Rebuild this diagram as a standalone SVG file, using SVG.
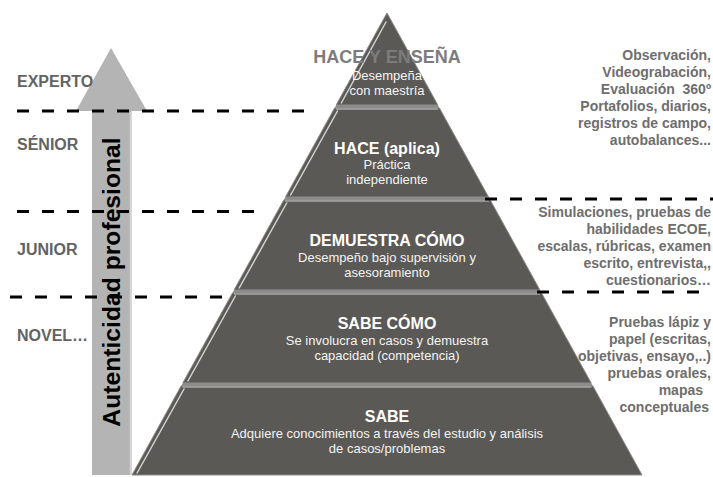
<svg xmlns="http://www.w3.org/2000/svg" width="713" height="477" viewBox="0 0 713 477">
  <style>
    .layer { fill: #5b5955; stroke: #8f8e8c; stroke-width: 1; }
    .hl { fill: none; stroke: #d2d2d0; stroke-width: 1.5; stroke-linecap: round; }
    .tophl { fill: none; stroke: #a9a9a7; stroke-width: 1.5; }
    .title { font-family: "Liberation Sans", Arial, sans-serif; font-weight: bold; font-size: 16px; fill: #ffffff; text-anchor: middle; }
    .sub { font-family: "Liberation Sans", Arial, sans-serif; font-size: 13px; fill: #f4f4f4; text-anchor: middle; }
    .level { font-family: "Liberation Sans", Arial, sans-serif; font-weight: bold; font-size: 16px; fill: #636363; }
    .method { font-family: "Liberation Sans", Arial, sans-serif; font-weight: bold; font-size: 14px; fill: #6e6e6e; text-anchor: end; }
    .dash { stroke: #000000; stroke-width: 3; stroke-dasharray: 12 13; fill: none; }
  </style>

  <rect width="713" height="477" fill="#ffffff"/>

  <!-- Arrow -->
  <g id="arrow-autenticidad">
    <polygon points="111,48 147,111 131.5,111 131.5,475 92,475 92,111 76,111" fill="#b4b4b4"/>
    <line x1="130.5" y1="112" x2="130.5" y2="475" stroke="#d4d4d4" stroke-width="1.5"/>
  </g>

  <!-- Pyramid background (gaps) -->
  <polygon points="387,13 642,475 132,475" fill="#8c8b89"/>

  <g id="layer-hace-ensena">
    <polygon class="layer" points="387,13 437.8,105 336.2,105"/>
    <line class="hl" x1="386" y1="22" x2="341.3" y2="103"/>
  </g>
  <g id="layer-hace">
    <polygon class="layer" points="334.6,108 439.4,108 488.5,197 285.5,197"/>
    <line class="tophl" x1="336" y1="109" x2="438" y2="109"/>
    <line class="hl" x1="337.5" y1="111" x2="290.6" y2="195"/>
    <text class="title" x="387" y="154">HACE (aplica)</text>
    <text class="sub" x="387" y="169">Práctica</text>
    <text class="sub" x="387" y="184">independiente</text>
  </g>
  <g id="layer-demuestra">
    <polygon class="layer" points="283.8,200 490.2,200 539.9,290 234.1,290"/>
    <line class="tophl" x1="285" y1="201" x2="489" y2="201"/>
    <line class="hl" x1="286.7" y1="203" x2="239.2" y2="288"/>
    <text class="title" x="387" y="246">DEMUESTRA CÓMO</text>
    <text class="sub" x="387" y="262">Desempeño bajo supervisión y</text>
    <text class="sub" x="387" y="277">asesoramiento</text>
  </g>
  <g id="layer-sabe-como">
    <polygon class="layer" points="232.5,293 541.5,293 591.2,383 182.8,383"/>
    <line class="tophl" x1="234" y1="294" x2="540" y2="294"/>
    <line class="hl" x1="235.4" y1="296" x2="187.9" y2="381"/>
    <text class="title" x="387" y="329">SABE CÓMO</text>
    <text class="sub" x="387" y="345">Se involucra en casos y demuestra</text>
    <text class="sub" x="387" y="360">capacidad (competencia)</text>
  </g>
  <g id="layer-sabe">
    <polygon class="layer" points="181.1,386 592.9,386 642,475 132,475"/>
    <line class="tophl" x1="182.5" y1="387" x2="591.5" y2="387"/>
    <line class="hl" x1="184" y1="389" x2="137.1" y2="473"/>
    <text class="title" x="387" y="422">SABE</text>
    <text class="sub" x="387" y="438">Adquiere conocimientos a través del estudio y análisis</text>
    <text class="sub" x="387" y="453">de casos/problemas</text>
  </g>

  <!-- Top layer texts (overflowing title) -->
  <g id="layer-hace-ensena-text">
    <text x="387" y="63" font-family="Liberation Sans, Arial, sans-serif" font-weight="bold" font-size="18" fill="#7c7c7c" text-anchor="middle">HACE Y ENSEÑA</text>
    <text class="sub" x="387" y="80">Desempeña</text>
    <text class="sub" x="387" y="95">con maestría</text>
  </g>

  <!-- Dashed separators -->
  <g id="separators">
    <line class="dash" x1="17" y1="111" x2="305" y2="111"/>
    <line class="dash" x1="17" y1="211.5" x2="256" y2="211.5"/>
    <line class="dash" x1="10" y1="297" x2="225" y2="297"/>
    <line class="dash" x1="485" y1="199" x2="713" y2="199"/>
    <line class="dash" x1="537" y1="292" x2="700" y2="292"/>
  </g>

  <!-- Arrow label -->
  <text id="arrow-label" transform="translate(120,282) rotate(-90)" font-family="Liberation Sans, Arial, sans-serif" font-weight="bold" font-size="24.7" fill="#000000" text-anchor="middle">Autenticidad profesional</text>

  <!-- Levels -->
  <g id="levels">
    <text class="level" x="17" y="87">EXPERTO</text>
    <text class="level" x="17" y="150">SÉNIOR</text>
    <text class="level" x="17" y="255">JUNIOR</text>
    <text class="level" x="17" y="341">NOVEL…</text>
  </g>

  <!-- Assessment methods -->
  <g id="methods-top">
    <text class="method" x="711" y="60">Observación,</text>
    <text class="method" x="711" y="77">Videograbación,</text>
    <text class="method" x="711" y="94" style="white-space:pre">Evaluación  360º</text>
    <text class="method" x="711" y="111">Portafolios, diarios,</text>
    <text class="method" x="711" y="128">registros de campo,</text>
    <text class="method" x="711" y="145">autobalances...</text>
  </g>
  <g id="methods-middle">
    <text class="method" x="711" y="217">Simulaciones, pruebas de</text>
    <text class="method" x="711" y="234">habilidades ECOE,</text>
    <text class="method" x="711" y="251">escalas, rúbricas, examen</text>
    <text class="method" x="711" y="268">escrito, entrevista,,</text>
    <text class="method" x="711" y="285">cuestionarios…</text>
  </g>
  <g id="methods-bottom">
    <text class="method" x="711" y="327">Pruebas lápiz y</text>
    <text class="method" x="711" y="344">papel (escritas,</text>
    <text class="method" x="711" y="361">objetivas, ensayo,..)</text>
    <text class="method" x="711" y="378">pruebas orales,</text>
    <text class="method" x="703" y="395">mapas</text>
    <text class="method" x="709" y="412">conceptuales</text>
  </g>
</svg>
